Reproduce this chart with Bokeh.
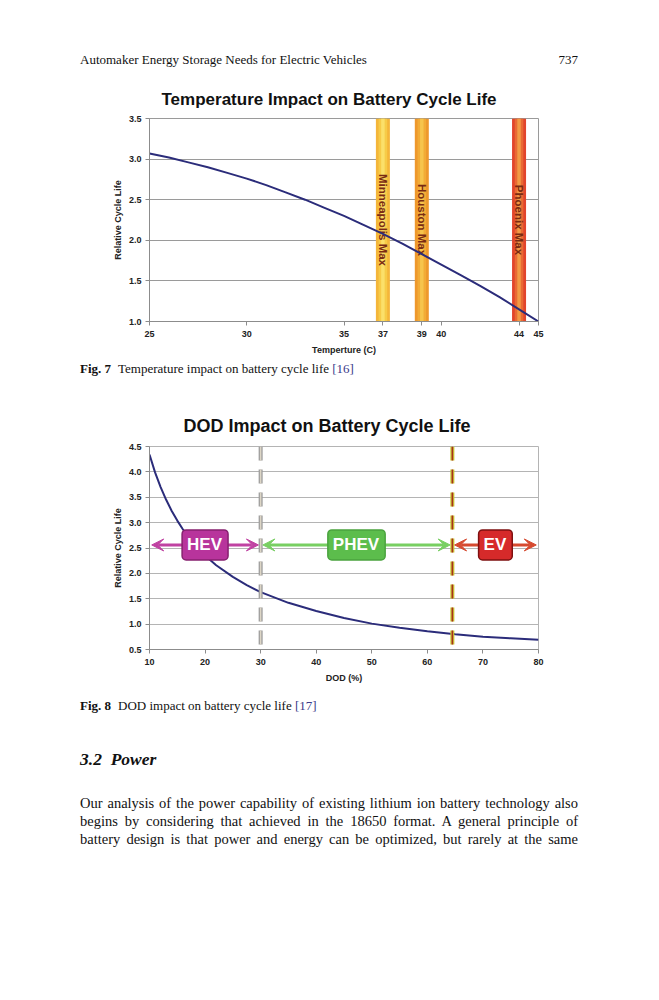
import math
from bokeh.plotting import figure
from bokeh.models import (Div, FixedTicker, Span, Arrow, VeeHead, Label,
                          ColumnDataSource, Range1d, NumeralTickFormatter)
from bokeh.layouts import column
from bokeh.embed import file_html
from bokeh.resources import INLINE
from bokeh.core.properties import value

# ---------------- data ----------------
temp_c = [25, 26, 27, 28, 29, 30, 31, 32, 33, 34, 35, 36, 37, 38, 39, 40, 41, 42, 43, 44, 45]
temp_life = [3.07, 3.02, 2.96, 2.90, 2.83, 2.76, 2.68, 2.59, 2.50, 2.40, 2.30, 2.19, 2.08,
             1.96, 1.83, 1.70, 1.57, 1.44, 1.30, 1.15, 1.00]
city_names = ["Minneapolis Max", "Houston Max", "Phoenix Max"]
city_temps = [37, 39, 44]
temp_ticks = [25, 30, 35, 37, 39, 40, 44, 45]
temp_y_ticks = [1.0, 1.5, 2.0, 2.5, 3.0, 3.5]

dod_pct = [10, 11, 12, 13, 14, 15, 16, 17, 18, 20, 22, 25, 27.5, 30, 35, 40, 45, 50,
           55, 60, 65, 70, 75, 80]
dod_life = [4.34, 3.99, 3.70, 3.45, 3.23, 3.04, 2.87, 2.72, 2.58, 2.35, 2.16, 1.93, 1.77,
            1.63, 1.42, 1.26, 1.12, 1.01, 0.93, 0.86, 0.80, 0.75, 0.72, 0.69]
dod_ticks = [10, 20, 30, 40, 50, 60, 70, 80]
dod_y_ticks = [0.5, 1.0, 1.5, 2.0, 2.5, 3.0, 3.5, 4.0, 4.5]
vehicle_classes = ["HEV", "PHEV", "EV"]
class_bounds = [10, 30, 64.5, 80]
class_level = 2.56

# ---------------- styles ----------------
SANS = "Liberation Sans"
SERIF = "Liberation Serif"
AX_COL = "#8c8c8c"
TXT_COL = "#222222"
CURVE_COL = "#2b2c7a"


def style_axis(ax):
    ax.axis_line_color = AX_COL
    ax.major_tick_line_color = AX_COL
    ax.minor_tick_line_color = None
    ax.major_tick_out = 4
    ax.major_tick_in = 0
    ax.major_label_text_font = SANS
    ax.major_label_text_font_style = "bold"
    ax.major_label_text_font_size = "9px"
    ax.major_label_text_color = TXT_COL
    ax.axis_label_text_font = SANS
    ax.axis_label_text_font_style = "bold"
    ax.axis_label_text_font_size = "9px"
    ax.axis_label_text_color = TXT_COL
    ax.major_label_standoff = 4


def style_axes(p, grid_col):
    for ax in (p.xaxis[0], p.yaxis[0]):
        style_axis(ax)
    p.xaxis[0].major_label_standoff = 5
    p.xaxis[0].axis_label_standoff = 5
    p.yaxis[0].axis_label_standoff = 3
    p.xgrid.grid_line_color = None
    p.ygrid.grid_line_color = grid_col
    p.ygrid.grid_line_width = 1
    p.outline_line_color = grid_col
    p.background_fill_color = "white"
    p.border_fill_color = "white"


# ---------------- figure 7 ----------------
p1 = figure(width=643, height=41 + 203 + 38,
            x_range=Range1d(temp_ticks[0], temp_ticks[-1]),
            y_range=Range1d(temp_y_ticks[0], temp_y_ticks[-1]),
            output_backend="svg", toolbar_location=None,
            min_border_left=140, min_border_right=113,
            min_border_top=41, min_border_bottom=38, margin=0)
p1.title.text = "Temperature Impact on Battery Cycle Life"
p1.title.align = "left"
p1.title.offset = 12
p1.title.standoff = 20
p1.title.text_font = SANS
p1.title.text_font_style = "bold"
p1.title.text_font_size = "17px"
p1.title.text_color = "#111111"
style_axes(p1, "#9a9a9a")
p1.xaxis[0].ticker = FixedTicker(ticks=temp_ticks)
p1.yaxis[0].ticker = FixedTicker(ticks=temp_y_ticks)
p1.yaxis[0].formatter = NumeralTickFormatter(format="0.0")
p1.xaxis[0].axis_label = "Temperture (C)"
p1.yaxis[0].axis_label = "Relative Cycle Life"

bar_src = ColumnDataSource(dict(x=city_temps, name=city_names,
                                outer=["#f4b63a", "#ee982c", "#e2452c"],
                                mid=["#f7cb48", "#f2ab36", "#e96a34"],
                                inner=["#fbe06a", "#f6c44c", "#f19a44"]))
y_lo, y_hi = temp_y_ticks[0], temp_y_ticks[-1]
p1.vbar(x="x", top=y_hi, bottom=y_lo, width=0.72, fill_color="outer",
        line_color=None, source=bar_src)
p1.vbar(x="x", top=y_hi, bottom=y_lo, width=0.44, fill_color="mid",
        line_color=None, source=bar_src)
p1.vbar(x="x", top=y_hi, bottom=y_lo, width=0.18, fill_color="inner",
        line_color=None, source=bar_src)
p1.text(x="x", y=(y_lo + y_hi) / 2, text="name", angle=-math.pi / 2,
        text_align="center", text_baseline="middle",
        text_font=value(SANS), text_font_style="bold", text_font_size="11.5px",
        text_color="#7a2a12", source=bar_src)
p1.line(temp_c, temp_life, line_color=CURVE_COL, line_width=2)

# ---------------- figure 8 ----------------
p2 = figure(width=643, height=47 + 203 + 38,
            x_range=Range1d(dod_ticks[0], dod_ticks[-1]),
            y_range=Range1d(dod_y_ticks[0], dod_y_ticks[-1]),
            output_backend="svg", toolbar_location=None,
            min_border_left=141, min_border_right=113,
            min_border_top=47, min_border_bottom=38, margin=0)
p2.title.text = "DOD Impact on Battery Cycle Life"
p2.title.align = "left"
p2.title.offset = 34
p2.title.standoff = 22
p2.title.text_font = SANS
p2.title.text_font_style = "bold"
p2.title.text_font_size = "18px"
p2.title.text_color = "#111111"
style_axes(p2, "#b4b4b4")
p2.xaxis[0].ticker = FixedTicker(ticks=dod_ticks)
p2.yaxis[0].ticker = FixedTicker(ticks=dod_y_ticks)
p2.yaxis[0].formatter = NumeralTickFormatter(format="0.0")
p2.xaxis[0].axis_label = "DOD (%)"
p2.yaxis[0].axis_label = "Relative Cycle Life"

# boundary dashed lines
p2.add_layout(Span(location=class_bounds[1], dimension="height", line_color="#9c9c9c",
                   line_width=4, line_dash="14 9"))
p2.add_layout(Span(location=class_bounds[1], dimension="height", line_color="#ddd6c6",
                   line_width=1.5, line_dash="14 9"))
p2.add_layout(Span(location=class_bounds[2], dimension="height", line_color="#c9c232",
                   line_width=4, line_dash="14 9"))
p2.add_layout(Span(location=class_bounds[2], dimension="height", line_color="#a8301e",
                   line_width=1.5, line_dash="14 9"))

p2.line(dod_pct, dod_life, line_color=CURVE_COL, line_width=2)

arrow_cols = ["#c042a2", "#78cf62", "#d64a30"]
box_fill = ["#b8349c", "#5cbd4c", "#d62a2a"]
box_line = ["#86206f", "#4aa33e", "#7e1010"]
for i, name in enumerate(vehicle_classes):
    x0, x1 = class_bounds[i], class_bounds[i + 1]
    p2.add_layout(Arrow(x_start=x0 + 0.4, x_end=x1 - 0.4, y_start=class_level, y_end=class_level,
                        line_color=arrow_cols[i], line_width=3,
                        start=VeeHead(size=12, fill_color=arrow_cols[i], line_color=arrow_cols[i]),
                        end=VeeHead(size=12, fill_color=arrow_cols[i], line_color=arrow_cols[i])))
    p2.add_layout(Label(x=(x0 + x1) / 2, y=class_level, text=name,
                        text_align="center", text_baseline="middle",
                        text_font=SANS, text_font_style="bold", text_font_size="17px",
                        text_color="white",
                        background_fill_color=box_fill[i], background_fill_alpha=1.0,
                        border_line_color=box_line[i], border_line_width=1.5,
                        padding=(5, 6, 5, 6), border_radius=4))

# ---------------- page text ----------------
def div(html, h):
    return Div(text=html, width=643, height=h, margin=0)

hdr = div(
    f'<div style="box-sizing:border-box;width:643px;padding:44px 73px 0 72px;'
    f'font-family:\'{SERIF}\';font-size:13px;line-height:16px;color:#111;'
    f'display:flex;justify-content:space-between;">'
    f'<span>Automaker Energy Storage Needs for Electric Vehicles</span><span>737</span></div>', 69)

cap7 = div(
    f'<div style="box-sizing:border-box;width:643px;padding:2px 0 0 72px;'
    f'font-family:\'{SERIF}\';font-size:13px;line-height:16px;color:#111;">'
    f'<b style="margin-right:7px;">Fig. 7</b>Temperature impact on battery cycle life '
    f'<span style="color:#3a3a8a;">[16]</span></div>', 40)

cap8 = div(
    f'<div style="box-sizing:border-box;width:643px;padding:11px 0 0 72px;'
    f'font-family:\'{SERIF}\';font-size:13px;line-height:16px;color:#111;">'
    f'<b style="margin-right:7px;">Fig. 8</b>DOD impact on battery cycle life '
    f'<span style="color:#3a3a8a;">[17]</span></div>', 53)

head = div(
    f'<div style="box-sizing:border-box;width:643px;padding:8px 0 0 72px;'
    f'font-family:\'{SERIF}\';font-size:17.5px;line-height:22px;color:#111;'
    f'font-weight:bold;font-style:italic;">3.2&nbsp;&nbsp;Power</div>', 45)

lines = ["Our analysis of the power capability of existing lithium ion battery technology also",
         "begins by considering that achieved in the 18650 format. A general principle of",
         "battery design is that power and energy can be optimized, but rarely at the same"]
body_html = "".join(
    f'<div style="text-align:justify;text-align-last:justify;">{ln}</div>' for ln in lines)
body = div(
    f'<div style="box-sizing:border-box;width:643px;padding:9px 73px 0 72px;'
    f'font-family:\'{SERIF}\';font-size:14.5px;line-height:18.2px;color:#111;">'
    f'{body_html}</div>', 90)

page = column(hdr, p1, cap7, p2, cap8, head, body, spacing=0, margin=(8, 0, 0, 8))

with open("out.html", "w") as f:
    f.write(file_html(page, INLINE))
